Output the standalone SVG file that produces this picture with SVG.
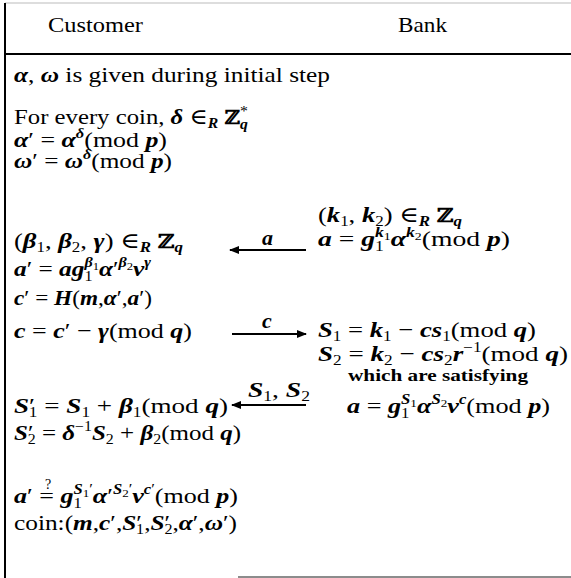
<svg xmlns="http://www.w3.org/2000/svg" width="571" height="578" viewBox="0 0 571 578">
<style>
text{font-family:"Liberation Serif","DejaVu Serif",serif;font-size:22px;fill:#000}
.m{font-style:italic;font-weight:bold}
.sc{font-size:14px}
.ss{font-size:11px}
.z{font-family:"DejaVu Serif",serif;font-weight:bold;font-size:19px}
.small{font-size:17px;font-weight:bold}
.ln{stroke:#000;stroke-width:2;fill:none}
</style>
<defs>
<marker id="ah" markerWidth="10" markerHeight="8" refX="9" refY="4" orient="auto" markerUnits="userSpaceOnUse">
<path d="M0,0 L10,4 L0,8 z" fill="#000"/>
</marker>
</defs>
<rect width="571" height="578" fill="#fff"/>
<g id="frame">
<line x1="5" y1="3" x2="571" y2="3" stroke="#bbb" stroke-width="1"/>
<line class="ln" x1="5" y1="3" x2="5" y2="578"/>
<line class="ln" x1="5" y1="54" x2="571" y2="54"/>
<line x1="238" y1="577" x2="571" y2="577" stroke="#666" stroke-width="1.5"/>
</g>
<g id="header">
<text x="48" y="32" textLength="95" lengthAdjust="spacingAndGlyphs">Customer</text>
<text x="398" y="32" textLength="49" lengthAdjust="spacingAndGlyphs">Bank</text>
</g>
<g id="customer-setup">
<text x="14" y="82" textLength="316" lengthAdjust="spacingAndGlyphs"><tspan class="m">α</tspan>, <tspan class="m">ω</tspan> is given during initial step</text>
<text x="14" y="124" textLength="234" lengthAdjust="spacingAndGlyphs">For every coin, <tspan class="m">δ</tspan> ∈<tspan class="sc m" dy="4">R</tspan> <tspan class="z" dy="-4">ℤ</tspan><tspan class="sc" dy="-8">*</tspan><tspan class="sc m" dx="-7" dy="13">q</tspan></text>
<text x="14" y="147" textLength="153" lengthAdjust="spacingAndGlyphs"><tspan class="m">α</tspan>′ = <tspan class="m">α</tspan><tspan class="sc m" dy="-9">δ</tspan><tspan dy="9">(mod </tspan><tspan class="m">p</tspan>)</text>
<text x="14" y="168" textLength="158" lengthAdjust="spacingAndGlyphs"><tspan class="m">ω</tspan>′ = <tspan class="m">ω</tspan><tspan class="sc m" dy="-9">δ</tspan><tspan dy="9">(mod </tspan><tspan class="m">p</tspan>)</text>
</g>
<g id="bank-commit">
<text x="318" y="222" textLength="144" lengthAdjust="spacingAndGlyphs">(<tspan class="m">k</tspan><tspan class="sc" dy="4">1</tspan><tspan dy="-4">, </tspan><tspan class="m">k</tspan><tspan class="sc" dy="4">2</tspan><tspan dy="-4">) ∈</tspan><tspan class="sc m" dy="4">R</tspan> <tspan class="z" dy="-4">ℤ</tspan><tspan class="sc m" dy="4">q</tspan></text>
<text x="318" y="246" textLength="192" lengthAdjust="spacingAndGlyphs"><tspan class="m">a</tspan> = <tspan class="m">g</tspan><tspan class="sc" dy="5">1</tspan><tspan class="sc m" dx="-7" dy="-14">k</tspan><tspan class="ss" dy="3">1</tspan><tspan class="m" dy="6">α</tspan><tspan class="sc m" dy="-9">k</tspan><tspan class="ss" dy="3">2</tspan><tspan dy="6">(mod </tspan><tspan class="m">p</tspan>)</text>
</g>
<g id="customer-blind">
<text x="14" y="248" textLength="169" lengthAdjust="spacingAndGlyphs">(<tspan class="m">β</tspan><tspan class="sc" dy="4">1</tspan><tspan dy="-4">, </tspan><tspan class="m">β</tspan><tspan class="sc" dy="4">2</tspan><tspan dy="-4">, </tspan><tspan class="m">γ</tspan>) ∈<tspan class="sc m" dy="4">R</tspan> <tspan class="z" dy="-4">ℤ</tspan><tspan class="sc m" dy="4">q</tspan></text>
<text x="14" y="276" textLength="137" lengthAdjust="spacingAndGlyphs"><tspan class="m">a</tspan>′ = <tspan class="m">ag</tspan><tspan class="sc" dy="5">1</tspan><tspan class="sc m" dx="-7" dy="-14">β</tspan><tspan class="ss" dy="3">1</tspan><tspan class="m" dy="6">α</tspan>′<tspan class="sc m" dy="-9">β</tspan><tspan class="ss" dy="3">2</tspan><tspan class="m" dy="6">v</tspan><tspan class="sc m" dy="-9">γ</tspan></text>
<text x="14" y="305" textLength="138" lengthAdjust="spacingAndGlyphs"><tspan class="m">c</tspan>′ = <tspan class="m">H</tspan>(<tspan class="m">m</tspan>,<tspan class="m">α</tspan>′,<tspan class="m">a</tspan>′)</text>
<text x="14" y="338" textLength="178" lengthAdjust="spacingAndGlyphs"><tspan class="m">c</tspan> = <tspan class="m">c</tspan>′ − <tspan class="m">γ</tspan>(mod <tspan class="m">q</tspan>)</text>
</g>
<g id="bank-respond">
<text x="318" y="337" textLength="218" lengthAdjust="spacingAndGlyphs"><tspan class="m">S</tspan><tspan class="sc" dy="4">1</tspan><tspan dy="-4"> = </tspan><tspan class="m">k</tspan><tspan class="sc" dy="4">1</tspan><tspan dy="-4"> − </tspan><tspan class="m">cs</tspan><tspan class="sc" dy="4">1</tspan><tspan dy="-4">(mod </tspan><tspan class="m">q</tspan>)</text>
<text x="318" y="361" textLength="250" lengthAdjust="spacingAndGlyphs"><tspan class="m">S</tspan><tspan class="sc" dy="4">2</tspan><tspan dy="-4"> = </tspan><tspan class="m">k</tspan><tspan class="sc" dy="4">2</tspan><tspan dy="-4"> − </tspan><tspan class="m">cs</tspan><tspan class="sc" dy="4">2</tspan><tspan class="m" dy="-4">r</tspan><tspan class="sc" dy="-9">−1</tspan><tspan dy="9">(mod </tspan><tspan class="m">q</tspan>)</text>
<text x="348" y="381" class="small" textLength="180" lengthAdjust="spacingAndGlyphs">which are satisfying</text>
<text x="347" y="413" textLength="203" lengthAdjust="spacingAndGlyphs"><tspan class="m">a</tspan> = <tspan class="m">g</tspan><tspan class="sc" dy="5">1</tspan><tspan class="sc m" dx="-7" dy="-14">S</tspan><tspan class="ss" dy="3">1</tspan><tspan class="m" dy="6">α</tspan><tspan class="sc m" dy="-9">S</tspan><tspan class="ss" dy="3">2</tspan><tspan class="m" dy="6">v</tspan><tspan class="sc m" dy="-9">c</tspan><tspan dy="9">(mod </tspan><tspan class="m">p</tspan>)</text>
</g>
<g id="customer-unblind">
<text x="14" y="413" textLength="214" lengthAdjust="spacingAndGlyphs"><tspan class="m">S</tspan>′<tspan class="sc" dx="-5" dy="4">1</tspan><tspan dy="-4"> = </tspan><tspan class="m">S</tspan><tspan class="sc" dy="4">1</tspan><tspan dy="-4"> + </tspan><tspan class="m">β</tspan><tspan class="sc" dy="4">1</tspan><tspan dy="-4">(mod </tspan><tspan class="m">q</tspan>)</text>
<text x="14" y="440" textLength="227" lengthAdjust="spacingAndGlyphs"><tspan class="m">S</tspan>′<tspan class="sc" dx="-5" dy="4">2</tspan><tspan dy="-4"> = </tspan><tspan class="m">δ</tspan><tspan class="sc" dy="-9">−1</tspan><tspan class="m" dy="9">S</tspan><tspan class="sc" dy="4">2</tspan><tspan dy="-4"> + </tspan><tspan class="m">β</tspan><tspan class="sc" dy="4">2</tspan><tspan dy="-4">(mod </tspan><tspan class="m">q</tspan>)</text>
</g>
<g id="customer-verify">
<text x="14" y="503" textLength="224" lengthAdjust="spacingAndGlyphs"><tspan class="m">a</tspan>′ = <tspan class="m">g</tspan><tspan class="sc" dy="5">1</tspan><tspan class="sc m" dx="-7" dy="-14">S</tspan><tspan class="ss" dy="3">1</tspan><tspan class="sc" dy="-3">′</tspan><tspan class="m" dy="9">α</tspan>′<tspan class="sc m" dy="-9">S</tspan><tspan class="ss" dy="3">2</tspan><tspan class="sc" dy="-3">′</tspan><tspan class="m" dy="9">v</tspan><tspan class="sc m" dy="-9">c</tspan><tspan class="sc">′</tspan><tspan dy="9">(mod </tspan><tspan class="m">p</tspan>)</text>
<text x="48" y="489" class="sc" text-anchor="middle">?</text>
<text x="14" y="530" textLength="223" lengthAdjust="spacingAndGlyphs">coin:(<tspan class="m">m</tspan>,<tspan class="m">c</tspan>′,<tspan class="m">S</tspan>′<tspan class="sc" dx="-5" dy="4">1</tspan><tspan dy="-4">,</tspan><tspan class="m">S</tspan>′<tspan class="sc" dx="-5" dy="4">2</tspan><tspan dy="-4">,</tspan><tspan class="m">α</tspan>′,<tspan class="m">ω</tspan>′)</text>
</g>
<g id="connectors">
<line class="ln" x1="306" y1="250" x2="230" y2="250" marker-end="url(#ah)"/>
<text x="262" y="245" class="m">a</text>
<line class="ln" x1="232" y1="334" x2="306" y2="334" marker-end="url(#ah)"/>
<text x="262" y="328" class="m">c</text>
<line class="ln" x1="306" y1="405" x2="232" y2="405" marker-end="url(#ah)"/>
<text x="248" y="397" textLength="62" lengthAdjust="spacingAndGlyphs"><tspan class="m">S</tspan><tspan class="sc" dy="4">1</tspan><tspan dy="-4">, </tspan><tspan class="m">S</tspan><tspan class="sc" dy="4">2</tspan></text>
</g>
</svg>
